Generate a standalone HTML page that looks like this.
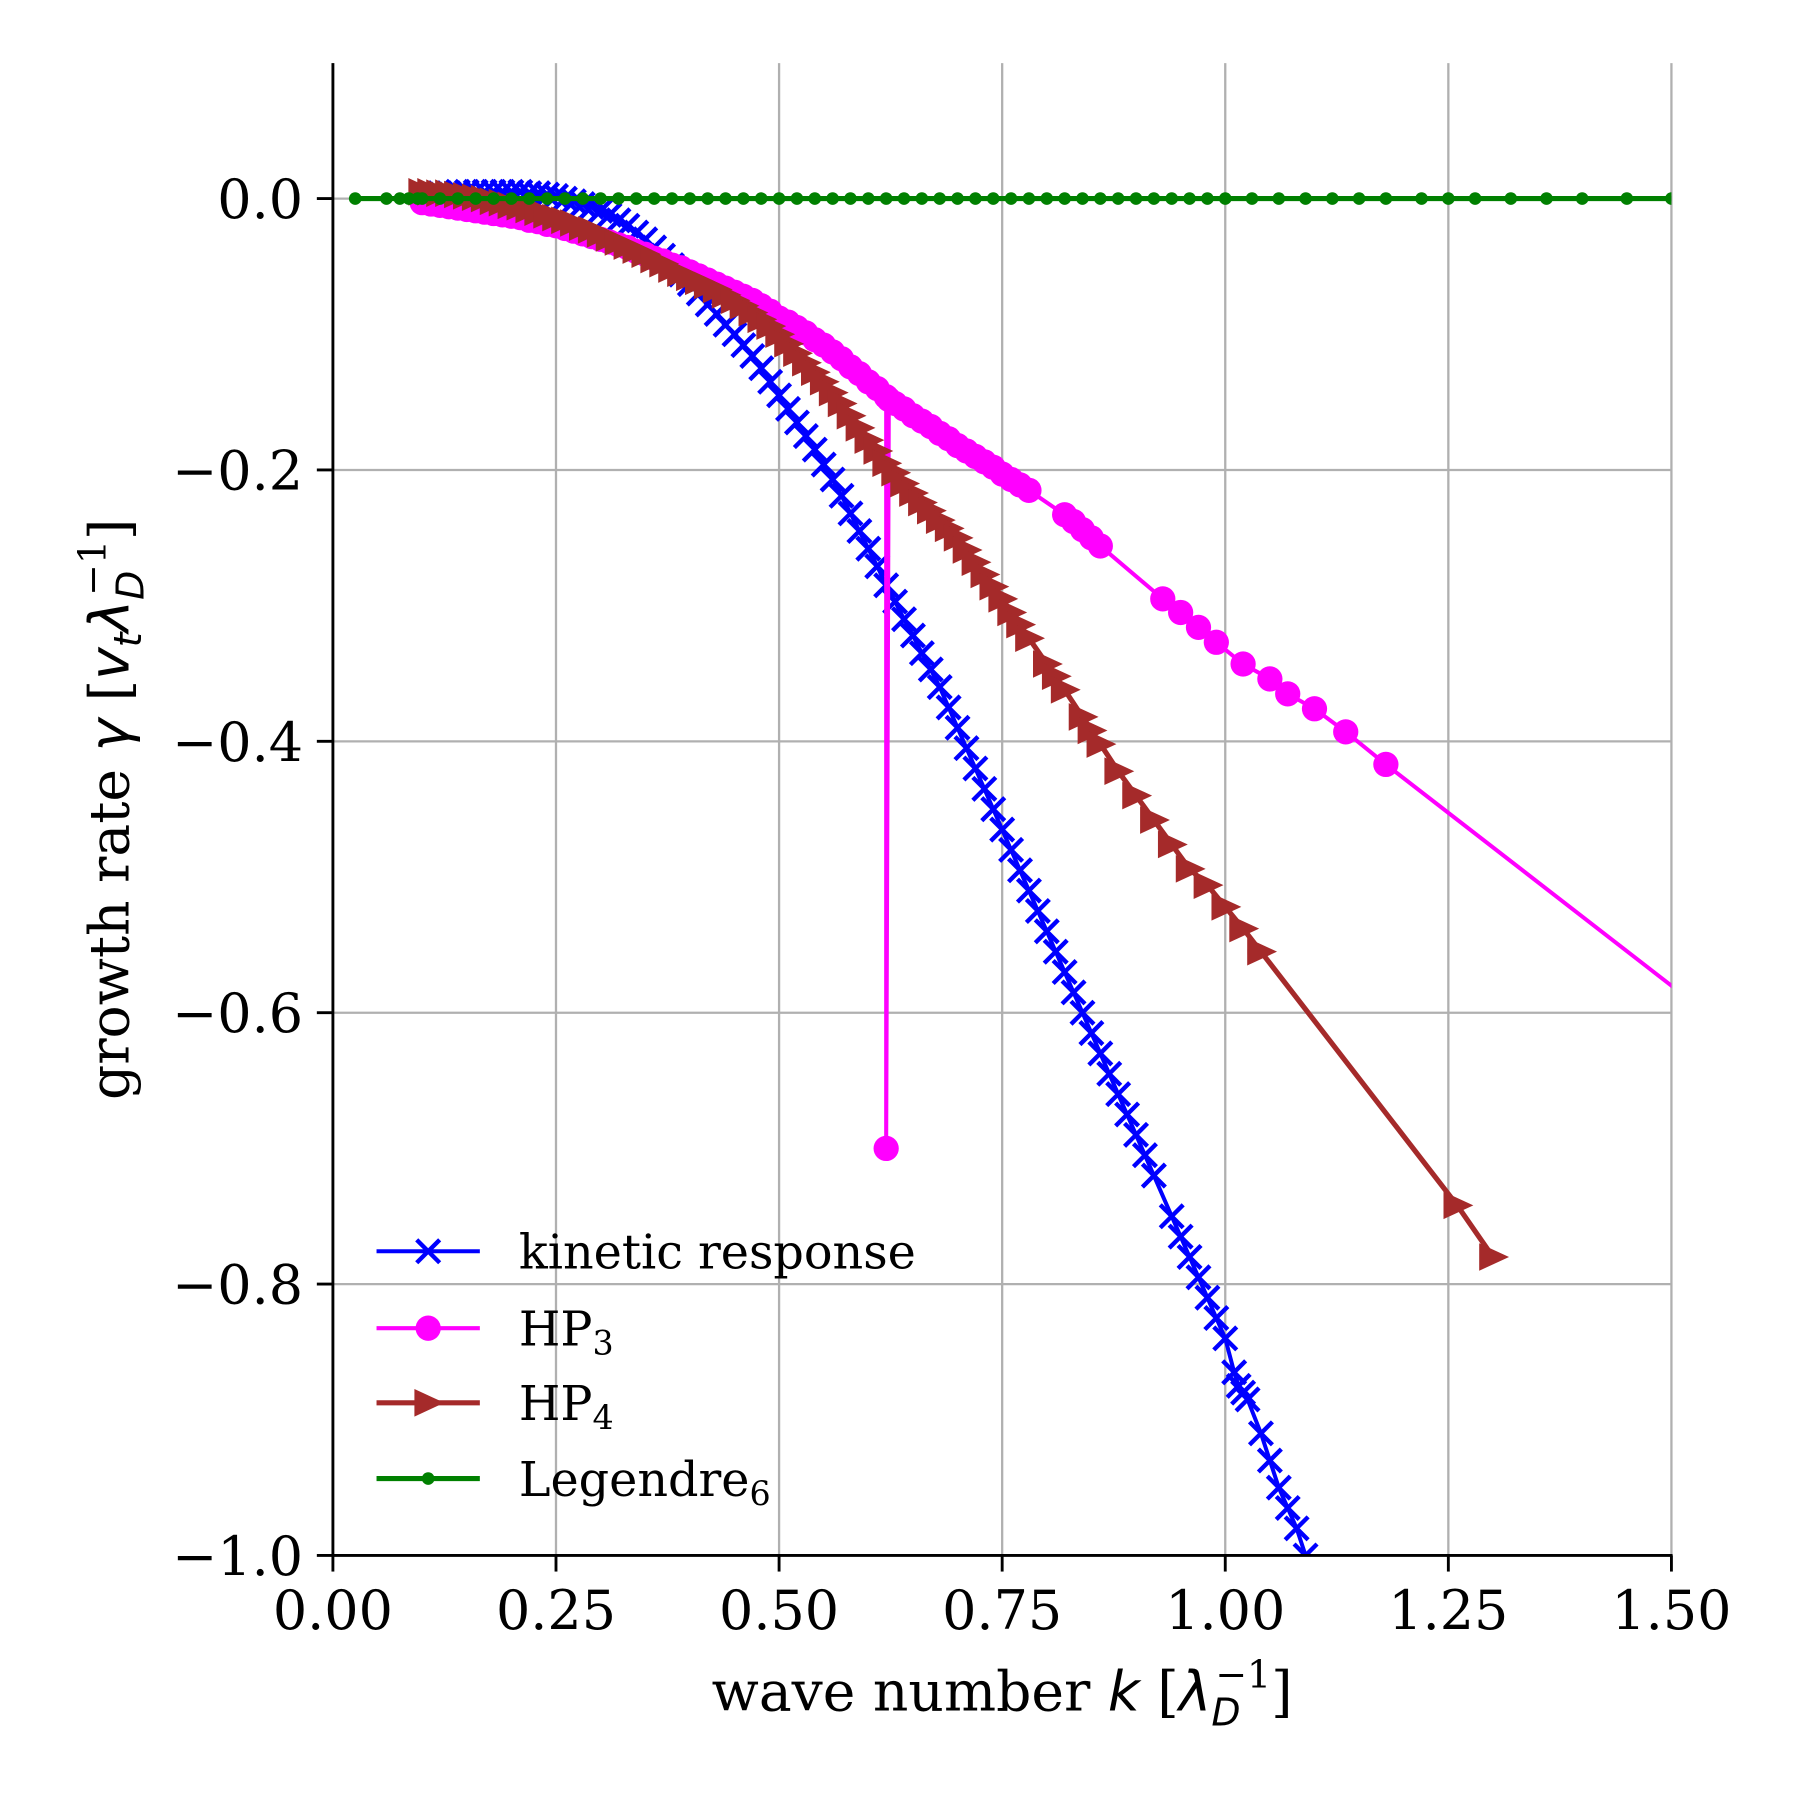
<!DOCTYPE html>
<html><head><meta charset="utf-8"><style>
html,body{margin:0;padding:0;background:#fff;}
svg{display:block;}
text{font-family:"DejaVu Serif","Liberation Serif",serif;fill:#000;}
.m{font-family:"DejaVu Sans","Liberation Sans",sans-serif;font-style:italic;}
</style></head><body>
<svg id="chart" width="1800" height="1800" viewBox="0 0 1568 1568" xmlns="http://www.w3.org/2000/svg">
<defs><clipPath id="ax"><rect x="290" y="55" width="1166" height="1300"/></clipPath></defs>
<g id="grid"></g>
<g id="series"></g>
<g id="axes"></g>
<text x="873" y="1490" text-anchor="middle" font-size="48">wave number <tspan class="m">k</tspan> [<tspan class="m">λ</tspan><tspan class="m" font-size="33" dy="13">D</tspan><tspan font-size="33" dx="-22" dy="-33">−1</tspan><tspan dy="20">]</tspan></text>
<text transform="translate(112,705) rotate(-90)" text-anchor="middle" font-size="48">growth rate <tspan class="m">γ</tspan> [<tspan class="m">v</tspan><tspan class="m" font-size="33" dy="11">t</tspan><tspan class="m" dy="-11">λ</tspan><tspan class="m" font-size="33" dy="13">D</tspan><tspan font-size="33" dx="-22" dy="-33">−1</tspan><tspan dy="20">]</tspan></text>
<g id="legend"></g>
</svg>
<script>
const xTicks = [0.00,0.25,0.50,0.75,1.00,1.25,1.50];
const xTickLabels = ["0.00","0.25","0.50","0.75","1.00","1.25","1.50"];
const yTicks = [0.0,-0.2,-0.4,-0.6,-0.8,-1.0];
const yTickLabels = ["0.0","\u22120.2","\u22120.4","\u22120.6","\u22120.8","\u22121.0"];
const kineticPts = [[0.10,0.003],[0.11,0.003],[0.12,0.004],[0.13,0.004],[0.14,0.005],[0.15,0.005],[0.16,0.005],[0.17,0.005],[0.18,0.005],[0.19,0.005],[0.20,0.005],[0.21,0.005],[0.22,0.004],[0.23,0.004],[0.24,0.003],[0.25,0.002],[0.26,0.0],[0.27,-0.002],[0.28,-0.004],[0.29,-0.006],[0.30,-0.009],[0.31,-0.012],[0.32,-0.016],[0.33,-0.02],[0.34,-0.025],[0.35,-0.03],[0.36,-0.036],[0.37,-0.042],[0.38,-0.049],[0.39,-0.056],[0.40,-0.063],[0.41,-0.070],[0.42,-0.078],[0.43,-0.085],[0.44,-0.093],[0.45,-0.100],[0.46,-0.108],[0.47,-0.116],[0.48,-0.125],[0.49,-0.135],[0.50,-0.145],[0.51,-0.155],[0.52,-0.165],[0.53,-0.175],[0.54,-0.185],[0.55,-0.196],[0.56,-0.207],[0.57,-0.219],[0.58,-0.232],[0.59,-0.245],[0.60,-0.258],[0.61,-0.271],[0.62,-0.285],[0.63,-0.297],[0.64,-0.31],[0.65,-0.322],[0.66,-0.335],[0.67,-0.347],[0.68,-0.36],[0.69,-0.375],[0.70,-0.39],[0.71,-0.405],[0.72,-0.42],[0.73,-0.435],[0.74,-0.45],[0.75,-0.465],[0.76,-0.48],[0.77,-0.495],[0.78,-0.51],[0.79,-0.525],[0.80,-0.54],[0.81,-0.555],[0.82,-0.57],[0.83,-0.585],[0.84,-0.60],[0.85,-0.615],[0.86,-0.63],[0.87,-0.645],[0.88,-0.66],[0.89,-0.675],[0.90,-0.69],[0.91,-0.705],[0.92,-0.72],[0.94,-0.75],[0.95,-0.765],[0.96,-0.78],[0.97,-0.795],[0.98,-0.81],[0.99,-0.825],[1.00,-0.84],[1.01,-0.865],[1.015,-0.875],[1.02,-0.88],[1.025,-0.885],[1.04,-0.91],[1.05,-0.93],[1.06,-0.95],[1.07,-0.965],[1.08,-0.98],[1.09,-1.0]];
const hp3Pts = [[0.10,-0.003],[0.11,-0.004],[0.12,-0.005],[0.13,-0.006],[0.14,-0.007],[0.15,-0.008],[0.16,-0.009],[0.17,-0.010],[0.18,-0.011],[0.19,-0.012],[0.20,-0.013],[0.21,-0.014],[0.22,-0.016],[0.23,-0.017],[0.24,-0.019],[0.25,-0.020],[0.26,-0.022],[0.27,-0.024],[0.28,-0.026],[0.29,-0.028],[0.30,-0.030],[0.31,-0.032],[0.32,-0.034],[0.33,-0.036],[0.34,-0.039],[0.35,-0.041],[0.36,-0.044],[0.37,-0.046],[0.38,-0.049],[0.39,-0.051],[0.40,-0.054],[0.41,-0.057],[0.42,-0.06],[0.43,-0.063],[0.44,-0.066],[0.45,-0.069],[0.46,-0.072],[0.47,-0.075],[0.48,-0.079],[0.49,-0.083],[0.50,-0.088],[0.51,-0.091],[0.52,-0.095],[0.53,-0.099],[0.54,-0.104],[0.55,-0.108],[0.56,-0.113],[0.57,-0.118],[0.58,-0.124],[0.59,-0.129],[0.60,-0.135],[0.61,-0.140],[0.62,-0.146],[0.62,-0.70],[0.623,-0.148],[0.63,-0.151],[0.64,-0.155],[0.65,-0.160],[0.66,-0.164],[0.67,-0.168],[0.68,-0.173],[0.69,-0.177],[0.70,-0.182],[0.71,-0.186],[0.72,-0.19],[0.73,-0.194],[0.74,-0.198],[0.75,-0.203],[0.76,-0.207],[0.77,-0.211],[0.78,-0.215],[0.82,-0.233],[0.83,-0.238],[0.84,-0.244],[0.85,-0.25],[0.86,-0.256],[0.93,-0.295],[0.95,-0.305],[0.97,-0.316],[0.99,-0.327],[1.02,-0.343],[1.05,-0.354],[1.07,-0.365],[1.10,-0.376],[1.135,-0.393],[1.18,-0.417],[1.70,-0.682]];
const hp4Pts = [[0.10,0.005],[0.11,0.005],[0.12,0.004],[0.13,0.004],[0.14,0.003],[0.15,0.002],[0.16,0.001],[0.17,0.0],[0.18,-0.002],[0.19,-0.003],[0.20,-0.005],[0.21,-0.006],[0.22,-0.008],[0.23,-0.010],[0.24,-0.012],[0.25,-0.014],[0.26,-0.016],[0.27,-0.018],[0.28,-0.021],[0.29,-0.023],[0.30,-0.026],[0.31,-0.029],[0.32,-0.032],[0.33,-0.035],[0.34,-0.038],[0.35,-0.041],[0.36,-0.045],[0.37,-0.048],[0.38,-0.052],[0.39,-0.055],[0.40,-0.058],[0.41,-0.061],[0.42,-0.064],[0.43,-0.067],[0.44,-0.071],[0.45,-0.075],[0.46,-0.079],[0.47,-0.084],[0.48,-0.089],[0.49,-0.094],[0.50,-0.1],[0.51,-0.107],[0.52,-0.114],[0.53,-0.121],[0.54,-0.128],[0.55,-0.135],[0.56,-0.143],[0.57,-0.151],[0.58,-0.16],[0.59,-0.169],[0.60,-0.178],[0.61,-0.186],[0.62,-0.195],[0.63,-0.202],[0.64,-0.21],[0.65,-0.217],[0.66,-0.224],[0.67,-0.230],[0.68,-0.237],[0.69,-0.243],[0.70,-0.25],[0.71,-0.259],[0.72,-0.268],[0.73,-0.277],[0.74,-0.286],[0.75,-0.295],[0.76,-0.305],[0.77,-0.314],[0.78,-0.324],[0.80,-0.343],[0.81,-0.352],[0.82,-0.362],[0.84,-0.382],[0.85,-0.392],[0.86,-0.402],[0.88,-0.422],[0.90,-0.44],[0.92,-0.458],[0.94,-0.476],[0.96,-0.494],[0.98,-0.506],[1.00,-0.522],[1.02,-0.538],[1.04,-0.555],[1.26,-0.742],[1.30,-0.78]];
const legendrePts = [[0.025,0],[0.06,0],[0.075,0],[0.085,0],[0.095,0],[0.10,0],[0.12,0],[0.14,0],[0.16,0],[0.18,0],[0.20,0],[0.22,0],[0.24,0],[0.26,0],[0.28,0],[0.30,0],[0.32,0],[0.34,0],[0.36,0],[0.38,0],[0.40,0],[0.42,0],[0.44,0],[0.46,0],[0.48,0],[0.50,0],[0.52,0],[0.54,0],[0.56,0],[0.58,0],[0.60,0],[0.62,0],[0.64,0],[0.66,0],[0.68,0],[0.70,0],[0.72,0],[0.74,0],[0.76,0],[0.78,0],[0.80,0],[0.82,0],[0.84,0],[0.86,0],[0.88,0],[0.90,0],[0.92,0],[0.94,0],[0.96,0],[0.98,0],[1.00,0],[1.03,0],[1.06,0],[1.09,0],[1.12,0],[1.15,0],[1.18,0],[1.22,0],[1.25,0],[1.28,0],[1.32,0],[1.36,0],[1.40,0],[1.45,0],[1.50,0]];

const NS="http://www.w3.org/2000/svg";
const X0=290,X1=1456,Y0=173,Y1=1355;
function sx(k){return X0+(k-0)/(1.5-0)*(X1-X0);}
function sy(g){return Y0+(0-g)/(0-(-1.0))*(Y1-Y0);}
function mk(tag,attrs,parent){const e=document.createElementNS(NS,tag);for(const a in attrs)e.setAttribute(a,attrs[a]);parent.appendChild(e);return e;}
const grid=document.getElementById('grid'),axes=document.getElementById('axes'),ser=document.getElementById('series'),leg=document.getElementById('legend');

xTicks.forEach((t,i)=>{
  const gl=mk('line',{x1:sx(t),x2:sx(t),y1:55,y2:Y1,stroke:'#b0b0b0','stroke-width':2},grid);
  
  
  const tk=mk('line',{x1:sx(t),x2:sx(t),y1:Y1,y2:Y1+14,stroke:'#000','stroke-width':2.5},axes);
  
  
  const tl=mk('text',{x:sx(t),y:1419,'text-anchor':'middle','font-size':47},axes);
  tl.textContent=xTickLabels[i];
  
  
});
yTicks.forEach((t,i)=>{
  const gl=mk('line',{x1:X0,x2:X1,y1:sy(t),y2:sy(t),stroke:'#b0b0b0','stroke-width':2},grid);
  
  
  const tk=mk('line',{x1:X0-14,x2:X0,y1:sy(t),y2:sy(t),stroke:'#000','stroke-width':2.5},axes);
  
  
  const tl=mk('text',{x:264,y:sy(t)+17,'text-anchor':'end','font-size':47},axes);
  tl.textContent=yTickLabels[i];
  
  
});
const ls=mk('line',{x1:X0,x2:X0,y1:55,y2:Y1+1,stroke:'#000','stroke-width':2.5},axes);


const bs=mk('line',{x1:X0-1,x2:X1+1,y1:Y1,y2:Y1,stroke:'#000','stroke-width':2.5},axes);



function marker(type,x,y,color,parent){
  let e;
  if(type==='x'){e=mk('path',{d:`M${x-10},${y-10}L${x+10},${y+10}M${x-10},${y+10}L${x+10},${y-10}`,stroke:color,'stroke-width':3.8,fill:'none'},parent);}
  else if(type==='o'){e=mk('circle',{cx:x,cy:y,r:11,fill:color},parent);}
  else if(type==='>'){e=mk('path',{d:`M${x-12},${y-12}L${x+14},${y}L${x-12},${y+12}Z`,fill:color},parent);}
  else {e=mk('circle',{cx:x,cy:y,r:5.5,fill:color},parent);}
  return e;
}
function drawSeries(pts,color,lw,mtype,name){
  const g=mk('g',{},ser);
  
  
  const ln=mk('polyline',{points:pts.map(p=>sx(p[0])+','+sy(p[1])).join(' '),fill:'none',stroke:color,'stroke-width':lw,'stroke-linejoin':'round','clip-path':'url(#ax)'},g);
  
  
  const mg=mk('g',{'clip-path':'url(#ax)'},g);
  pts.forEach(p=>{
    const m=marker(mtype,sx(p[0]),sy(p[1]),color,mg);
    
    
  });
}
drawSeries(kineticPts,'#0000ff',3.5,'x','kinetic-response');
drawSeries(hp3Pts,'#ff00ff',3.5,'o','hp3');
drawSeries(hp4Pts,'#a52a2a',4.5,'>','hp4');
drawSeries(legendrePts,'#008000',4.5,'.','legendre6');

const legendItems=[['kinetic response','','#0000ff','x',3.5],['HP','3','#ff00ff','o',3.5],['HP','4','#a52a2a','>',4.5],['Legendre','6','#008000','.',4.5]];
const legendY=[1090,1157,1222,1288];
legendItems.forEach((it,i)=>{
  const y=legendY[i];
  const g=mk('g',{},leg);
  
  
  mk('line',{x1:328,x2:418,y1:y,y2:y,stroke:it[2],'stroke-width':it[4]},g);
  marker(it[3],373,y,it[2],g);
  const t=mk('text',{x:452,y:y+15,'font-size':41.5},g);
  t.textContent=it[0];
  if(it[1]){const s=mk('tspan',{'font-size':29,dy:8},t);s.textContent=it[1];}
});
</script>
</body></html>
